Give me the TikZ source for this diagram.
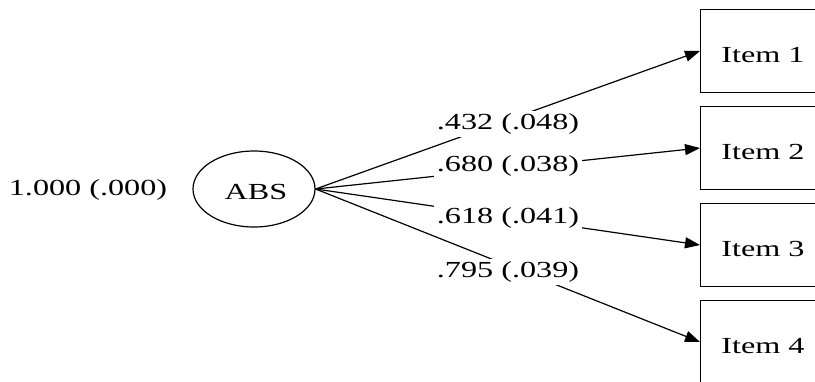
\documentclass[tikz,border=0pt]{standalone}
\usepackage{fontspec}
\setmainfont[FakeStretch=1.4]{Liberation Serif}
\usetikzlibrary{shapes.geometric,arrows.meta}
\begin{document}
\begin{tikzpicture}[x=1pt,y=-1pt,
  every node/.style={font=\fontsize{23}{27}\selectfont},
  latent/.style={draw, ellipse, line width=1.2pt, minimum width=122pt, minimum height=76pt, inner sep=0pt},
  itembox/.style={draw, rectangle, line width=1.2pt, minimum width=140pt, minimum height=83pt, anchor=west, inner sep=0pt},
  coef/.style={fill=white, inner sep=3pt},
  path/.style={line width=1.2pt, -{Triangle[length=15pt,width=11pt]}}
]
\clip (0,0) rectangle (815,381);
\fill[white] (0,0) rectangle (815,381);
\node[latent] (abs) at (254,189) {};
\node (abslbl) at (256,192) {ABS};
\node (var) at (88,190) {1.000 (.000)};
\node[itembox] (i1) at (700,51) {};
\node[itembox] (i2) at (700,148) {};
\node[itembox] (i3) at (700,245) {};
\node[itembox] (i4) at (700,342) {};
\node (t1) at (763,55) {Item 1};
\node (t2) at (763,152) {Item 2};
\node (t3) at (763,249) {Item 3};
\node (t4) at (763,346) {Item 4};
\draw[path] (abs.east) -- (i1.west);
\draw[path] (abs.east) -- (i2.west);
\draw[path] (abs.east) -- (i3.west);
\draw[path] (abs.east) -- (i4.west);
\node[coef] (c1) at (508,124) {.432 (.048)};
\node[coef] (c2) at (508,166) {.680 (.038)};
\node[coef] (c3) at (508,218) {.618 (.041)};
\node[coef] (c4) at (508,272) {.795 (.039)};
\end{tikzpicture}
\end{document}
